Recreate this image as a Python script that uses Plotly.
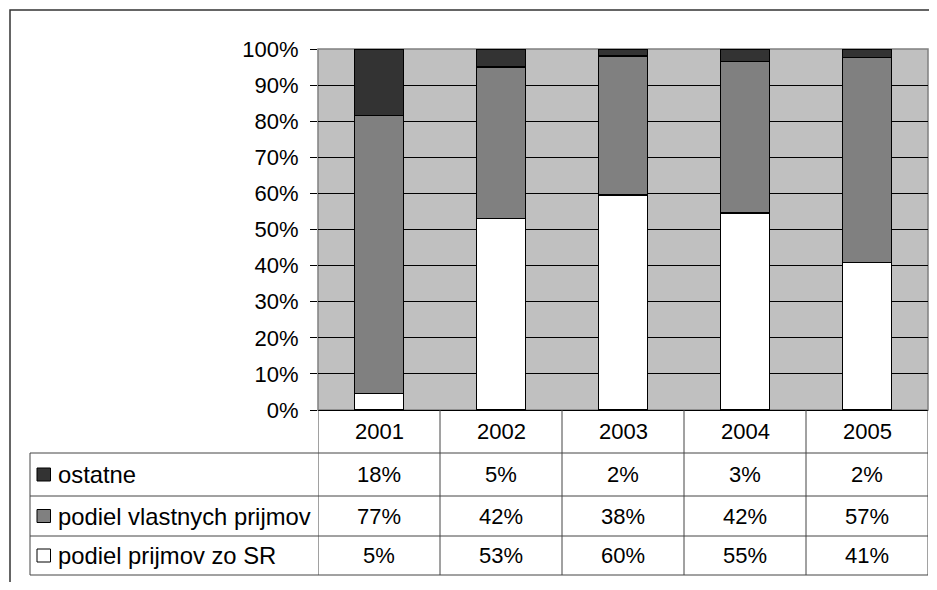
import plotly.graph_objects as go

years = ["2001", "2002", "2003", "2004", "2005"]
series_names = ["ostatne", "podiel vlastnych prijmov", "podiel prijmov zo SR"]
ostatne = [18.4, 5.0, 2.0, 3.4, 2.4]
vlastne = [77.0, 42.0, 38.4, 42.0, 56.7]
zo_sr = [4.6, 53.0, 59.6, 54.6, 40.9]
y_ticks = [0, 10, 20, 30, 40, 50, 60, 70, 80, 90, 100]
y_tick_labels = [f"{t}%" for t in y_ticks]

colors = {"ostatne": "#333333", "podiel vlastnych prijmov": "#808080", "podiel prijmov zo SR": "#FFFFFF"}

OFF = 8  # page body margin
W, H = 937 - 2 * OFF, 590 - 2 * OFF
PL, PR, PT, PB = 318, 928, 49, 410  # plot area in page pixels
L, R, T, B = PL - OFF, W - (PR - OFF), PT - OFF, H - (PB - OFF)
PW = W - L - R
PH = H - T - B


def px(x):
    return (x - OFF - L) / PW


def py(y):
    return (H - B - (y - OFF)) / PH


FONT = "Liberation Sans, Arial, sans-serif"
FS = 22
FS_LEG = 23.8

fig = go.Figure()
for name, vals in [("podiel prijmov zo SR", zo_sr), ("podiel vlastnych prijmov", vlastne), ("ostatne", ostatne)]:
    fig.add_trace(go.Bar(
        x=years, y=vals, name=name, width=0.4,
        marker=dict(color=colors[name], line=dict(color="#000000", width=1.5)),
        showlegend=False, hoverinfo="skip",
    ))

shapes = []
annotations = []

# plot border (grey)
shapes.append(dict(type="rect", xref="paper", yref="paper", x0=0, x1=1, y0=0, y1=1,
                   line=dict(color="#808080", width=1.5), layer="below"))
# outer frame
shapes.append(dict(type="rect", xref="paper", yref="paper", x0=px(10), x1=px(960), y0=py(10), y1=py(620),
                   line=dict(color="#333333", width=1.5), fillcolor="rgba(0,0,0,0)"))

# table geometry
row_lines = [453, 496, 536, 575]
line_col = "#444444"
for yl in row_lines:
    shapes.append(dict(type="line", xref="paper", yref="paper", x0=px(30), x1=1, y0=py(yl), y1=py(yl),
                       line=dict(color=line_col, width=1)))
shapes.append(dict(type="line", xref="paper", yref="paper", x0=px(30), x1=px(30), y0=py(453), y1=py(575),
                   line=dict(color=line_col, width=1)))
for i in range(len(years) + 1):
    shapes.append(dict(type="line", xref="x", yref="paper", x0=i - 0.5, x1=i - 0.5, y0=0, y1=py(575),
                       line=dict(color=line_col, width=1)))

# header years
for i, yr in enumerate(years):
    annotations.append(dict(x=i, y=py(431.5), xref="x", yref="paper", text=yr, showarrow=False,
                            font=dict(family=FONT, size=FS, color="#000000"), xanchor="center", yanchor="middle"))

rows = [("ostatne", ostatne), ("podiel vlastnych prijmov", vlastne), ("podiel prijmov zo SR", zo_sr)]
for r, (name, vals) in enumerate(rows):
    yc = (row_lines[r] + row_lines[r + 1]) / 2
    shapes.append(dict(type="rect", xref="paper", yref="paper", x0=px(37), x1=px(50.5), y0=py(yc - 6.5), y1=py(yc + 6.5),
                       fillcolor=colors[name], line=dict(color="#000000", width=1)))
    annotations.append(dict(x=px(56), y=py(yc), xref="paper", yref="paper", text=name, showarrow=False,
                            font=dict(family=FONT, size=FS_LEG, color="#000000"), xanchor="left", yanchor="middle"))
    for i, v in enumerate(vals):
        annotations.append(dict(x=i, y=py(yc), xref="x", yref="paper", text=f"{round(v)}%", showarrow=False,
                                font=dict(family=FONT, size=FS, color="#000000"), xanchor="center", yanchor="middle"))

fig.update_layout(
    width=W, height=H,
    margin=dict(l=L, r=R, t=T, b=B),
    barmode="stack",
    plot_bgcolor="#C0C0C0",
    paper_bgcolor="#FFFFFF",
    font=dict(family=FONT, size=FS, color="#000000"),
    shapes=shapes,
    annotations=annotations,
    xaxis=dict(type="category", range=[-0.5, 4.5], showticklabels=False, ticks="",
               showline=True, linecolor="#000000", linewidth=1, showgrid=False, zeroline=False, fixedrange=True),
    yaxis=dict(range=[0, 100], tickvals=y_ticks, ticktext=y_tick_labels, ticks="outside", ticklen=7,
               tickcolor="#000000", tickwidth=1, showgrid=True, gridcolor="#000000", gridwidth=1,
               zeroline=False, showline=False, ticklabelstandoff=7,
               tickfont=dict(family=FONT, size=FS, color="#000000"), fixedrange=True),
)

fig.write_html("out.html")
